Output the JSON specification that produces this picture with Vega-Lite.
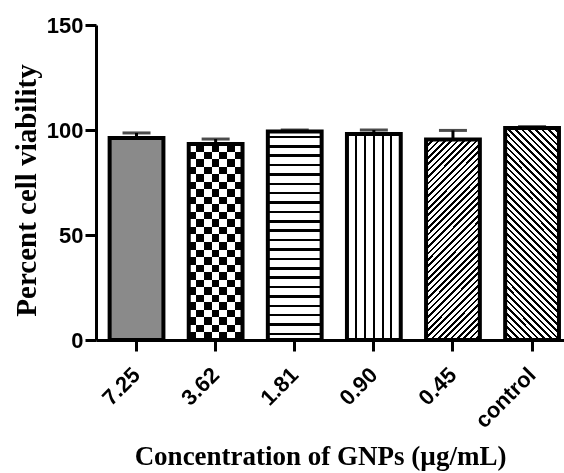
{
  "$schema": "https://vega.github.io/schema/vega-lite/v6.json",
  "autosize": {"type": "none"},
  "padding": {"left": 96, "top": 25, "right": 0, "bottom": 133},
  "width": 468,
  "height": 315,
  "background": "white",
  "config": {
    "view": {"stroke": null},
    "axis": {
      "grid": false,
      "domainColor": "#000", "domainWidth": 3,
      "tickColor": "#000", "tickWidth": 3, "tickSize": 11,
      "labelColor": "#000", "labelFont": "Liberation Sans", "labelFontSize": 22, "labelFontWeight": "bold",
      "titleColor": "#000", "titleFont": "Liberation Serif", "titleFontSize": 27, "titleFontWeight": "bold"
    }
  },
  "data": {"values": [
    {"c": "7.25", "v": 96.2, "hi": 98.6},
    {"c": "3.62", "v": 93.3, "hi": 95.7},
    {"c": "1.81", "v": 99.3, "hi": 100.0},
    {"c": "0.90", "v": 98.1, "hi": 100.0},
    {"c": "0.45", "v": 95.5, "hi": 99.8},
    {"c": "control", "v": 101.0, "hi": 101.6}
  ]},
  "encoding": {
    "x": {"field": "c", "type": "nominal", "sort": null, "title": "Concentration of GNPs (µg/mL)",
      "scale": {"paddingInner": 0.32, "paddingOuter": 0.118, "align": 0.73},
      "axis": {"labelAngle": -45, "labelAlign": "right", "labelBaseline": "middle", "labelPadding": 20, "titlePadding": 12, "titleX": 224}},
    "y": {"field": "v", "type": "quantitative", "title": "Percent cell viability",
      "scale": {"domain": [0, 150], "nice": false},
      "axis": {"values": [0, 50, 100, 150], "labelPadding": 2, "titlePadding": 5, "titleY": 165, "titleFontSize": 29}}
  },
  "layer": [
    {"transform": [{"filter": "datum.c === '7.25'"}], "mark": {"type": "bar", "fill": "#8a8a8a"}},
    {"transform": [{"filter": "datum.c === '3.62'"}], "mark": {"type": "bar", "fill": {"gradient": "linear", "x1": 0, "y1": 0, "x2": 1, "y2": 0, "stops": [
      {"offset": 0, "color": "#fff"}, {"offset": 0.1429, "color": "#fff"}, {"offset": 0.1429, "color": "#000"}, {"offset": 0.2857, "color": "#000"},
      {"offset": 0.2857, "color": "#fff"}, {"offset": 0.4286, "color": "#fff"}, {"offset": 0.4286, "color": "#000"}, {"offset": 0.5714, "color": "#000"},
      {"offset": 0.5714, "color": "#fff"}, {"offset": 0.7143, "color": "#fff"}, {"offset": 0.7143, "color": "#000"}, {"offset": 0.8571, "color": "#000"},
      {"offset": 0.8571, "color": "#fff"}, {"offset": 1, "color": "#fff"}]}}},
    {"transform": [{"filter": "datum.c === '3.62'"}], "mark": {"type": "bar", "blend": "difference", "fill": {"gradient": "linear", "x1": 0, "y1": 0, "x2": 0, "y2": 1, "stops": [
      {"offset": 0, "color": "#000"}, {"offset": 0.0385, "color": "#000"}, {"offset": 0.0385, "color": "#fff"}, {"offset": 0.0769, "color": "#fff"},
      {"offset": 0.0769, "color": "#000"}, {"offset": 0.1154, "color": "#000"}, {"offset": 0.1154, "color": "#fff"}, {"offset": 0.1538, "color": "#fff"},
      {"offset": 0.1538, "color": "#000"}, {"offset": 0.1923, "color": "#000"}, {"offset": 0.1923, "color": "#fff"}, {"offset": 0.2308, "color": "#fff"},
      {"offset": 0.2308, "color": "#000"}, {"offset": 0.2692, "color": "#000"}, {"offset": 0.2692, "color": "#fff"}, {"offset": 0.3077, "color": "#fff"},
      {"offset": 0.3077, "color": "#000"}, {"offset": 0.3462, "color": "#000"}, {"offset": 0.3462, "color": "#fff"}, {"offset": 0.3846, "color": "#fff"},
      {"offset": 0.3846, "color": "#000"}, {"offset": 0.4231, "color": "#000"}, {"offset": 0.4231, "color": "#fff"}, {"offset": 0.4615, "color": "#fff"},
      {"offset": 0.4615, "color": "#000"}, {"offset": 0.5, "color": "#000"}, {"offset": 0.5, "color": "#fff"}, {"offset": 0.5385, "color": "#fff"},
      {"offset": 0.5385, "color": "#000"}, {"offset": 0.5769, "color": "#000"}, {"offset": 0.5769, "color": "#fff"}, {"offset": 0.6154, "color": "#fff"},
      {"offset": 0.6154, "color": "#000"}, {"offset": 0.6538, "color": "#000"}, {"offset": 0.6538, "color": "#fff"}, {"offset": 0.6923, "color": "#fff"},
      {"offset": 0.6923, "color": "#000"}, {"offset": 0.7308, "color": "#000"}, {"offset": 0.7308, "color": "#fff"}, {"offset": 0.7692, "color": "#fff"},
      {"offset": 0.7692, "color": "#000"}, {"offset": 0.8077, "color": "#000"}, {"offset": 0.8077, "color": "#fff"}, {"offset": 0.8462, "color": "#fff"},
      {"offset": 0.8462, "color": "#000"}, {"offset": 0.8846, "color": "#000"}, {"offset": 0.8846, "color": "#fff"}, {"offset": 0.9231, "color": "#fff"},
      {"offset": 0.9231, "color": "#000"}, {"offset": 0.9615, "color": "#000"}, {"offset": 0.9615, "color": "#fff"}, {"offset": 1, "color": "#fff"}]}}},
    {"transform": [{"filter": "datum.c === '1.81'"}], "mark": {"type": "bar", "fill": {"gradient": "linear", "x1": 0, "y1": 0, "x2": 0, "y2": 1, "stops": [
      {"offset": 0, "color": "#fff"}, {"offset": 0.02, "color": "#fff"}, {"offset": 0.02, "color": "#000"}, {"offset": 0.032, "color": "#000"}, {"offset": 0.032, "color": "#fff"},
      {"offset": 0.065, "color": "#fff"}, {"offset": 0.065, "color": "#000"}, {"offset": 0.077, "color": "#000"}, {"offset": 0.077, "color": "#fff"},
      {"offset": 0.11, "color": "#fff"}, {"offset": 0.11, "color": "#000"}, {"offset": 0.122, "color": "#000"}, {"offset": 0.122, "color": "#fff"},
      {"offset": 0.155, "color": "#fff"}, {"offset": 0.155, "color": "#000"}, {"offset": 0.167, "color": "#000"}, {"offset": 0.167, "color": "#fff"},
      {"offset": 0.2, "color": "#fff"}, {"offset": 0.2, "color": "#000"}, {"offset": 0.212, "color": "#000"}, {"offset": 0.212, "color": "#fff"},
      {"offset": 0.245, "color": "#fff"}, {"offset": 0.245, "color": "#000"}, {"offset": 0.257, "color": "#000"}, {"offset": 0.257, "color": "#fff"},
      {"offset": 0.29, "color": "#fff"}, {"offset": 0.29, "color": "#000"}, {"offset": 0.302, "color": "#000"}, {"offset": 0.302, "color": "#fff"},
      {"offset": 0.335, "color": "#fff"}, {"offset": 0.335, "color": "#000"}, {"offset": 0.347, "color": "#000"}, {"offset": 0.347, "color": "#fff"},
      {"offset": 0.38, "color": "#fff"}, {"offset": 0.38, "color": "#000"}, {"offset": 0.392, "color": "#000"}, {"offset": 0.392, "color": "#fff"},
      {"offset": 0.425, "color": "#fff"}, {"offset": 0.425, "color": "#000"}, {"offset": 0.437, "color": "#000"}, {"offset": 0.437, "color": "#fff"},
      {"offset": 0.47, "color": "#fff"}, {"offset": 0.47, "color": "#000"}, {"offset": 0.482, "color": "#000"}, {"offset": 0.482, "color": "#fff"},
      {"offset": 0.515, "color": "#fff"}, {"offset": 0.515, "color": "#000"}, {"offset": 0.527, "color": "#000"}, {"offset": 0.527, "color": "#fff"},
      {"offset": 0.56, "color": "#fff"}, {"offset": 0.56, "color": "#000"}, {"offset": 0.572, "color": "#000"}, {"offset": 0.572, "color": "#fff"},
      {"offset": 0.605, "color": "#fff"}, {"offset": 0.605, "color": "#000"}, {"offset": 0.617, "color": "#000"}, {"offset": 0.617, "color": "#fff"},
      {"offset": 0.65, "color": "#fff"}, {"offset": 0.65, "color": "#000"}, {"offset": 0.662, "color": "#000"}, {"offset": 0.662, "color": "#fff"},
      {"offset": 0.695, "color": "#fff"}, {"offset": 0.695, "color": "#000"}, {"offset": 0.707, "color": "#000"}, {"offset": 0.707, "color": "#fff"},
      {"offset": 0.74, "color": "#fff"}, {"offset": 0.74, "color": "#000"}, {"offset": 0.752, "color": "#000"}, {"offset": 0.752, "color": "#fff"},
      {"offset": 0.785, "color": "#fff"}, {"offset": 0.785, "color": "#000"}, {"offset": 0.797, "color": "#000"}, {"offset": 0.797, "color": "#fff"},
      {"offset": 0.83, "color": "#fff"}, {"offset": 0.83, "color": "#000"}, {"offset": 0.842, "color": "#000"}, {"offset": 0.842, "color": "#fff"},
      {"offset": 0.875, "color": "#fff"}, {"offset": 0.875, "color": "#000"}, {"offset": 0.887, "color": "#000"}, {"offset": 0.887, "color": "#fff"},
      {"offset": 0.92, "color": "#fff"}, {"offset": 0.92, "color": "#000"}, {"offset": 0.932, "color": "#000"}, {"offset": 0.932, "color": "#fff"},
      {"offset": 0.965, "color": "#fff"}, {"offset": 0.965, "color": "#000"}, {"offset": 0.977, "color": "#000"}, {"offset": 0.977, "color": "#fff"},
      {"offset": 1, "color": "#fff"}]}}},
    {"transform": [{"filter": "datum.c === '0.90'"}], "mark": {"type": "bar", "fill": {"gradient": "linear", "x1": 0, "y1": 0, "x2": 1, "y2": 0, "stops": [
      {"offset": 0, "color": "#fff"}, {"offset": 0.145, "color": "#fff"}, {"offset": 0.145, "color": "#000"}, {"offset": 0.18, "color": "#000"}, {"offset": 0.18, "color": "#fff"},
      {"offset": 0.315, "color": "#fff"}, {"offset": 0.315, "color": "#000"}, {"offset": 0.35, "color": "#000"}, {"offset": 0.35, "color": "#fff"},
      {"offset": 0.485, "color": "#fff"}, {"offset": 0.485, "color": "#000"}, {"offset": 0.52, "color": "#000"}, {"offset": 0.52, "color": "#fff"},
      {"offset": 0.645, "color": "#fff"}, {"offset": 0.645, "color": "#000"}, {"offset": 0.68, "color": "#000"}, {"offset": 0.68, "color": "#fff"},
      {"offset": 0.805, "color": "#fff"}, {"offset": 0.805, "color": "#000"}, {"offset": 0.84, "color": "#000"}, {"offset": 0.84, "color": "#fff"},
      {"offset": 1, "color": "#fff"}]}}},
    {"transform": [{"filter": "datum.c === '0.45'"}], "mark": {"type": "bar", "fill": {"gradient": "linear", "x1": 0, "y1": 0, "x2": 0.319, "y2": 1.184, "stops": [
      {"offset": 0, "color": "#000"}, {"offset": 0.01, "color": "#000"}, {"offset": 0.01, "color": "#fff"}, {"offset": 0.025, "color": "#fff"},
      {"offset": 0.025, "color": "#000"}, {"offset": 0.035, "color": "#000"}, {"offset": 0.035, "color": "#fff"}, {"offset": 0.05, "color": "#fff"},
      {"offset": 0.05, "color": "#000"}, {"offset": 0.06, "color": "#000"}, {"offset": 0.06, "color": "#fff"}, {"offset": 0.075, "color": "#fff"},
      {"offset": 0.075, "color": "#000"}, {"offset": 0.085, "color": "#000"}, {"offset": 0.085, "color": "#fff"}, {"offset": 0.1, "color": "#fff"},
      {"offset": 0.1, "color": "#000"}, {"offset": 0.11, "color": "#000"}, {"offset": 0.11, "color": "#fff"}, {"offset": 0.125, "color": "#fff"},
      {"offset": 0.125, "color": "#000"}, {"offset": 0.135, "color": "#000"}, {"offset": 0.135, "color": "#fff"}, {"offset": 0.15, "color": "#fff"},
      {"offset": 0.15, "color": "#000"}, {"offset": 0.16, "color": "#000"}, {"offset": 0.16, "color": "#fff"}, {"offset": 0.175, "color": "#fff"},
      {"offset": 0.175, "color": "#000"}, {"offset": 0.185, "color": "#000"}, {"offset": 0.185, "color": "#fff"}, {"offset": 0.2, "color": "#fff"},
      {"offset": 0.2, "color": "#000"}, {"offset": 0.21, "color": "#000"}, {"offset": 0.21, "color": "#fff"}, {"offset": 0.225, "color": "#fff"},
      {"offset": 0.225, "color": "#000"}, {"offset": 0.235, "color": "#000"}, {"offset": 0.235, "color": "#fff"}, {"offset": 0.25, "color": "#fff"},
      {"offset": 0.25, "color": "#000"}, {"offset": 0.26, "color": "#000"}, {"offset": 0.26, "color": "#fff"}, {"offset": 0.275, "color": "#fff"},
      {"offset": 0.275, "color": "#000"}, {"offset": 0.285, "color": "#000"}, {"offset": 0.285, "color": "#fff"}, {"offset": 0.3, "color": "#fff"},
      {"offset": 0.3, "color": "#000"}, {"offset": 0.31, "color": "#000"}, {"offset": 0.31, "color": "#fff"}, {"offset": 0.325, "color": "#fff"},
      {"offset": 0.325, "color": "#000"}, {"offset": 0.335, "color": "#000"}, {"offset": 0.335, "color": "#fff"}, {"offset": 0.35, "color": "#fff"},
      {"offset": 0.35, "color": "#000"}, {"offset": 0.36, "color": "#000"}, {"offset": 0.36, "color": "#fff"}, {"offset": 0.375, "color": "#fff"},
      {"offset": 0.375, "color": "#000"}, {"offset": 0.385, "color": "#000"}, {"offset": 0.385, "color": "#fff"}, {"offset": 0.4, "color": "#fff"},
      {"offset": 0.4, "color": "#000"}, {"offset": 0.41, "color": "#000"}, {"offset": 0.41, "color": "#fff"}, {"offset": 0.425, "color": "#fff"},
      {"offset": 0.425, "color": "#000"}, {"offset": 0.435, "color": "#000"}, {"offset": 0.435, "color": "#fff"}, {"offset": 0.45, "color": "#fff"},
      {"offset": 0.45, "color": "#000"}, {"offset": 0.46, "color": "#000"}, {"offset": 0.46, "color": "#fff"}, {"offset": 0.475, "color": "#fff"},
      {"offset": 0.475, "color": "#000"}, {"offset": 0.485, "color": "#000"}, {"offset": 0.485, "color": "#fff"}, {"offset": 0.5, "color": "#fff"},
      {"offset": 0.5, "color": "#000"}, {"offset": 0.51, "color": "#000"}, {"offset": 0.51, "color": "#fff"}, {"offset": 0.525, "color": "#fff"},
      {"offset": 0.525, "color": "#000"}, {"offset": 0.535, "color": "#000"}, {"offset": 0.535, "color": "#fff"}, {"offset": 0.55, "color": "#fff"},
      {"offset": 0.55, "color": "#000"}, {"offset": 0.56, "color": "#000"}, {"offset": 0.56, "color": "#fff"}, {"offset": 0.575, "color": "#fff"},
      {"offset": 0.575, "color": "#000"}, {"offset": 0.585, "color": "#000"}, {"offset": 0.585, "color": "#fff"}, {"offset": 0.6, "color": "#fff"},
      {"offset": 0.6, "color": "#000"}, {"offset": 0.61, "color": "#000"}, {"offset": 0.61, "color": "#fff"}, {"offset": 0.625, "color": "#fff"},
      {"offset": 0.625, "color": "#000"}, {"offset": 0.635, "color": "#000"}, {"offset": 0.635, "color": "#fff"}, {"offset": 0.65, "color": "#fff"},
      {"offset": 0.65, "color": "#000"}, {"offset": 0.66, "color": "#000"}, {"offset": 0.66, "color": "#fff"}, {"offset": 0.675, "color": "#fff"},
      {"offset": 0.675, "color": "#000"}, {"offset": 0.685, "color": "#000"}, {"offset": 0.685, "color": "#fff"}, {"offset": 0.7, "color": "#fff"},
      {"offset": 0.7, "color": "#000"}, {"offset": 0.71, "color": "#000"}, {"offset": 0.71, "color": "#fff"}, {"offset": 0.725, "color": "#fff"},
      {"offset": 0.725, "color": "#000"}, {"offset": 0.735, "color": "#000"}, {"offset": 0.735, "color": "#fff"}, {"offset": 0.75, "color": "#fff"},
      {"offset": 0.75, "color": "#000"}, {"offset": 0.76, "color": "#000"}, {"offset": 0.76, "color": "#fff"}, {"offset": 0.775, "color": "#fff"},
      {"offset": 0.775, "color": "#000"}, {"offset": 0.785, "color": "#000"}, {"offset": 0.785, "color": "#fff"}, {"offset": 0.8, "color": "#fff"},
      {"offset": 0.8, "color": "#000"}, {"offset": 0.81, "color": "#000"}, {"offset": 0.81, "color": "#fff"}, {"offset": 0.825, "color": "#fff"},
      {"offset": 0.825, "color": "#000"}, {"offset": 0.835, "color": "#000"}, {"offset": 0.835, "color": "#fff"}, {"offset": 0.85, "color": "#fff"},
      {"offset": 0.85, "color": "#000"}, {"offset": 0.86, "color": "#000"}, {"offset": 0.86, "color": "#fff"}, {"offset": 0.875, "color": "#fff"},
      {"offset": 0.875, "color": "#000"}, {"offset": 0.885, "color": "#000"}, {"offset": 0.885, "color": "#fff"}, {"offset": 0.9, "color": "#fff"},
      {"offset": 0.9, "color": "#000"}, {"offset": 0.91, "color": "#000"}, {"offset": 0.91, "color": "#fff"}, {"offset": 0.925, "color": "#fff"},
      {"offset": 0.925, "color": "#000"}, {"offset": 0.935, "color": "#000"}, {"offset": 0.935, "color": "#fff"}, {"offset": 0.95, "color": "#fff"},
      {"offset": 0.95, "color": "#000"}, {"offset": 0.96, "color": "#000"}, {"offset": 0.96, "color": "#fff"}, {"offset": 0.975, "color": "#fff"},
      {"offset": 0.975, "color": "#000"}, {"offset": 0.985, "color": "#000"}, {"offset": 0.985, "color": "#fff"}, {"offset": 1, "color": "#fff"}]}}},
    {"transform": [{"filter": "datum.c === 'control'"}], "mark": {"type": "bar", "fill": {"gradient": "linear", "x1": 0, "y1": 1, "x2": 0.3, "y2": -0.178, "stops": [
      {"offset": 0, "color": "#000"}, {"offset": 0.01, "color": "#000"}, {"offset": 0.01, "color": "#fff"}, {"offset": 0.025, "color": "#fff"},
      {"offset": 0.025, "color": "#000"}, {"offset": 0.035, "color": "#000"}, {"offset": 0.035, "color": "#fff"}, {"offset": 0.05, "color": "#fff"},
      {"offset": 0.05, "color": "#000"}, {"offset": 0.06, "color": "#000"}, {"offset": 0.06, "color": "#fff"}, {"offset": 0.075, "color": "#fff"},
      {"offset": 0.075, "color": "#000"}, {"offset": 0.085, "color": "#000"}, {"offset": 0.085, "color": "#fff"}, {"offset": 0.1, "color": "#fff"},
      {"offset": 0.1, "color": "#000"}, {"offset": 0.11, "color": "#000"}, {"offset": 0.11, "color": "#fff"}, {"offset": 0.125, "color": "#fff"},
      {"offset": 0.125, "color": "#000"}, {"offset": 0.135, "color": "#000"}, {"offset": 0.135, "color": "#fff"}, {"offset": 0.15, "color": "#fff"},
      {"offset": 0.15, "color": "#000"}, {"offset": 0.16, "color": "#000"}, {"offset": 0.16, "color": "#fff"}, {"offset": 0.175, "color": "#fff"},
      {"offset": 0.175, "color": "#000"}, {"offset": 0.185, "color": "#000"}, {"offset": 0.185, "color": "#fff"}, {"offset": 0.2, "color": "#fff"},
      {"offset": 0.2, "color": "#000"}, {"offset": 0.21, "color": "#000"}, {"offset": 0.21, "color": "#fff"}, {"offset": 0.225, "color": "#fff"},
      {"offset": 0.225, "color": "#000"}, {"offset": 0.235, "color": "#000"}, {"offset": 0.235, "color": "#fff"}, {"offset": 0.25, "color": "#fff"},
      {"offset": 0.25, "color": "#000"}, {"offset": 0.26, "color": "#000"}, {"offset": 0.26, "color": "#fff"}, {"offset": 0.275, "color": "#fff"},
      {"offset": 0.275, "color": "#000"}, {"offset": 0.285, "color": "#000"}, {"offset": 0.285, "color": "#fff"}, {"offset": 0.3, "color": "#fff"},
      {"offset": 0.3, "color": "#000"}, {"offset": 0.31, "color": "#000"}, {"offset": 0.31, "color": "#fff"}, {"offset": 0.325, "color": "#fff"},
      {"offset": 0.325, "color": "#000"}, {"offset": 0.335, "color": "#000"}, {"offset": 0.335, "color": "#fff"}, {"offset": 0.35, "color": "#fff"},
      {"offset": 0.35, "color": "#000"}, {"offset": 0.36, "color": "#000"}, {"offset": 0.36, "color": "#fff"}, {"offset": 0.375, "color": "#fff"},
      {"offset": 0.375, "color": "#000"}, {"offset": 0.385, "color": "#000"}, {"offset": 0.385, "color": "#fff"}, {"offset": 0.4, "color": "#fff"},
      {"offset": 0.4, "color": "#000"}, {"offset": 0.41, "color": "#000"}, {"offset": 0.41, "color": "#fff"}, {"offset": 0.425, "color": "#fff"},
      {"offset": 0.425, "color": "#000"}, {"offset": 0.435, "color": "#000"}, {"offset": 0.435, "color": "#fff"}, {"offset": 0.45, "color": "#fff"},
      {"offset": 0.45, "color": "#000"}, {"offset": 0.46, "color": "#000"}, {"offset": 0.46, "color": "#fff"}, {"offset": 0.475, "color": "#fff"},
      {"offset": 0.475, "color": "#000"}, {"offset": 0.485, "color": "#000"}, {"offset": 0.485, "color": "#fff"}, {"offset": 0.5, "color": "#fff"},
      {"offset": 0.5, "color": "#000"}, {"offset": 0.51, "color": "#000"}, {"offset": 0.51, "color": "#fff"}, {"offset": 0.525, "color": "#fff"},
      {"offset": 0.525, "color": "#000"}, {"offset": 0.535, "color": "#000"}, {"offset": 0.535, "color": "#fff"}, {"offset": 0.55, "color": "#fff"},
      {"offset": 0.55, "color": "#000"}, {"offset": 0.56, "color": "#000"}, {"offset": 0.56, "color": "#fff"}, {"offset": 0.575, "color": "#fff"},
      {"offset": 0.575, "color": "#000"}, {"offset": 0.585, "color": "#000"}, {"offset": 0.585, "color": "#fff"}, {"offset": 0.6, "color": "#fff"},
      {"offset": 0.6, "color": "#000"}, {"offset": 0.61, "color": "#000"}, {"offset": 0.61, "color": "#fff"}, {"offset": 0.625, "color": "#fff"},
      {"offset": 0.625, "color": "#000"}, {"offset": 0.635, "color": "#000"}, {"offset": 0.635, "color": "#fff"}, {"offset": 0.65, "color": "#fff"},
      {"offset": 0.65, "color": "#000"}, {"offset": 0.66, "color": "#000"}, {"offset": 0.66, "color": "#fff"}, {"offset": 0.675, "color": "#fff"},
      {"offset": 0.675, "color": "#000"}, {"offset": 0.685, "color": "#000"}, {"offset": 0.685, "color": "#fff"}, {"offset": 0.7, "color": "#fff"},
      {"offset": 0.7, "color": "#000"}, {"offset": 0.71, "color": "#000"}, {"offset": 0.71, "color": "#fff"}, {"offset": 0.725, "color": "#fff"},
      {"offset": 0.725, "color": "#000"}, {"offset": 0.735, "color": "#000"}, {"offset": 0.735, "color": "#fff"}, {"offset": 0.75, "color": "#fff"},
      {"offset": 0.75, "color": "#000"}, {"offset": 0.76, "color": "#000"}, {"offset": 0.76, "color": "#fff"}, {"offset": 0.775, "color": "#fff"},
      {"offset": 0.775, "color": "#000"}, {"offset": 0.785, "color": "#000"}, {"offset": 0.785, "color": "#fff"}, {"offset": 0.8, "color": "#fff"},
      {"offset": 0.8, "color": "#000"}, {"offset": 0.81, "color": "#000"}, {"offset": 0.81, "color": "#fff"}, {"offset": 0.825, "color": "#fff"},
      {"offset": 0.825, "color": "#000"}, {"offset": 0.835, "color": "#000"}, {"offset": 0.835, "color": "#fff"}, {"offset": 0.85, "color": "#fff"},
      {"offset": 0.85, "color": "#000"}, {"offset": 0.86, "color": "#000"}, {"offset": 0.86, "color": "#fff"}, {"offset": 0.875, "color": "#fff"},
      {"offset": 0.875, "color": "#000"}, {"offset": 0.885, "color": "#000"}, {"offset": 0.885, "color": "#fff"}, {"offset": 0.9, "color": "#fff"},
      {"offset": 0.9, "color": "#000"}, {"offset": 0.91, "color": "#000"}, {"offset": 0.91, "color": "#fff"}, {"offset": 0.925, "color": "#fff"},
      {"offset": 0.925, "color": "#000"}, {"offset": 0.935, "color": "#000"}, {"offset": 0.935, "color": "#fff"}, {"offset": 0.95, "color": "#fff"},
      {"offset": 0.95, "color": "#000"}, {"offset": 0.96, "color": "#000"}, {"offset": 0.96, "color": "#fff"}, {"offset": 0.975, "color": "#fff"},
      {"offset": 0.975, "color": "#000"}, {"offset": 0.985, "color": "#000"}, {"offset": 0.985, "color": "#fff"}, {"offset": 1, "color": "#fff"}]}}},
    {"mark": {"type": "bar", "fill": "white", "fillOpacity": 0, "stroke": "#000", "strokeWidth": 4}},
    {"mark": {"type": "rule", "stroke": "#000", "strokeWidth": 3}, "encoding": {"y2": {"field": "hi"}}},
    {"mark": {"type": "tick", "color": "#000", "thickness": 3, "size": 28},
      "encoding": {"y": {"field": "hi", "type": "quantitative", "title": "Percent cell viability"}}}
  ]
}
